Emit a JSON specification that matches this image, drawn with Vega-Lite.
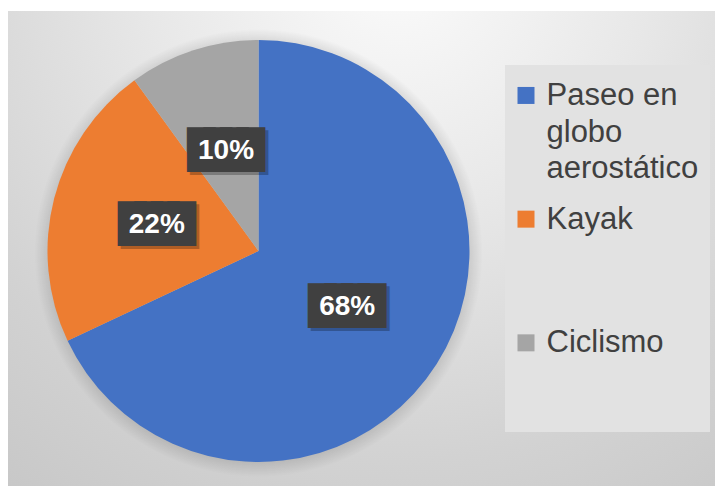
{
  "$schema": "https://vega.github.io/schema/vega-lite/v6.json",
  "width": 707,
  "height": 475,
  "autosize": {"type": "none"},
  "padding": {"left": 8, "top": 11, "right": 0, "bottom": 0},
  "background": "#ffffff",
  "config": {
    "view": {"stroke": null},
    "style": {"guide-label": {"lineHeight": 36.5}}
  },
  "datasets": {
    "actividades": [
      {"actividad": "Paseo en globo aerostático", "porcentaje": 0.68, "orden": 1},
      {"actividad": "Kayak", "porcentaje": 0.22, "orden": 2},
      {"actividad": "Ciclismo", "porcentaje": 0.10, "orden": 3}
    ]
  },
  "layer": [
    {
      "data": {"values": [{}]},
      "mark": {
        "type": "rect",
        "fill": {
          "gradient": "radial",
          "x1": 0.55, "y1": 0.1, "r1": 0,
          "x2": 0.55, "y2": 0.1, "r2": 1.0,
          "stops": [
            {"offset": 0, "color": "#fbfbfb"},
            {"offset": 0.35, "color": "#e8e8e8"},
            {"offset": 0.7, "color": "#d2d2d2"},
            {"offset": 1, "color": "#c4c4c4"}
          ]
        }
      },
      "encoding": {}
    },
    {
      "data": {"values": [{}]},
      "mark": {
        "type": "arc", "outerRadius": 224, "x": 250.5, "y": 242,
        "fill": {
          "gradient": "radial",
          "x1": 0.5, "y1": 0.5, "r1": 0,
          "x2": 0.5, "y2": 0.5, "r2": 0.5,
          "stops": [
            {"offset": 0, "color": "rgba(0,0,0,0.14)"},
            {"offset": 0.93, "color": "rgba(0,0,0,0.12)"},
            {"offset": 1, "color": "rgba(0,0,0,0)"}
          ]
        }
      },
      "encoding": {}
    },
    {
      "data": {"name": "actividades"},
      "encoding": {
        "theta": {"field": "porcentaje", "type": "quantitative", "stack": true},
        "order": {"field": "orden", "type": "quantitative"}
      },
      "layer": [
        {
          "mark": {"type": "arc", "outerRadius": 211, "x": 250.5, "y": 240},
          "encoding": {
            "color": {
              "field": "actividad",
              "type": "nominal",
              "sort": ["Paseo en globo aerostático", "Kayak", "Ciclismo"],
              "scale": {
                "domain": ["Paseo en globo aerostático", "Kayak", "Ciclismo"],
                "range": ["#4472c4", "#ed7d31", "#a5a5a5"]
              },
              "legend": {
                "orient": "none",
                "legendX": 497,
                "legendY": 54,
                "title": "\u00a0",
                "titleOrient": "right",
                "titleFontSize": 1,
                "titlePadding": 11,
                "symbolType": "M-1,0.7H1V2.7H-1Z",
                "symbolSize": 289,
                "symbolStrokeWidth": 0,
                "symbolOffset": 5,
                "labelFont": "Liberation Sans",
                "labelFontSize": 31,
                "labelColor": "#404040",
                "labelBaseline": "top",
                "labelOffset": 5,
                "labelLimit": 400,
                "labelExpr": "datum.label == 'Paseo en globo aerostático' ? ['Paseo en', 'globo', 'aerostático'] : [datum.label, '', '']",
                "fillColor": "#e2e2e2",
                "padding": 0.5,
                "rowPadding": 4.7
              }
            }
          }
        },
        {
          "mark": {
            "type": "text", "x": 250.5, "y": 240, "radius": 105,
            "font": "DejaVu Sans Mono", "fontSize": 27.5,
            "fill": "#000000", "stroke": "#000000", "strokeWidth": 12, "strokeJoin": "miter",
            "opacity": 0.25, "dx": 3, "dy": 3
          },
          "encoding": {"text": {"value": "████"}}
        },
        {
          "mark": {
            "type": "text", "x": 250.5, "y": 240, "radius": 105,
            "font": "DejaVu Sans Mono", "fontSize": 27.5,
            "fill": "#404040", "stroke": "#404040", "strokeWidth": 12, "strokeJoin": "miter"
          },
          "encoding": {"text": {"value": "████"}}
        },
        {
          "mark": {
            "type": "text", "x": 250.5, "y": 240, "radius": 105,
            "font": "Liberation Sans", "fontSize": 28, "fontWeight": "bold",
            "fill": "#ffffff"
          },
          "encoding": {
            "text": {"field": "porcentaje", "type": "quantitative", "format": ".0%"}
          }
        }
      ]
    }
  ]
}
